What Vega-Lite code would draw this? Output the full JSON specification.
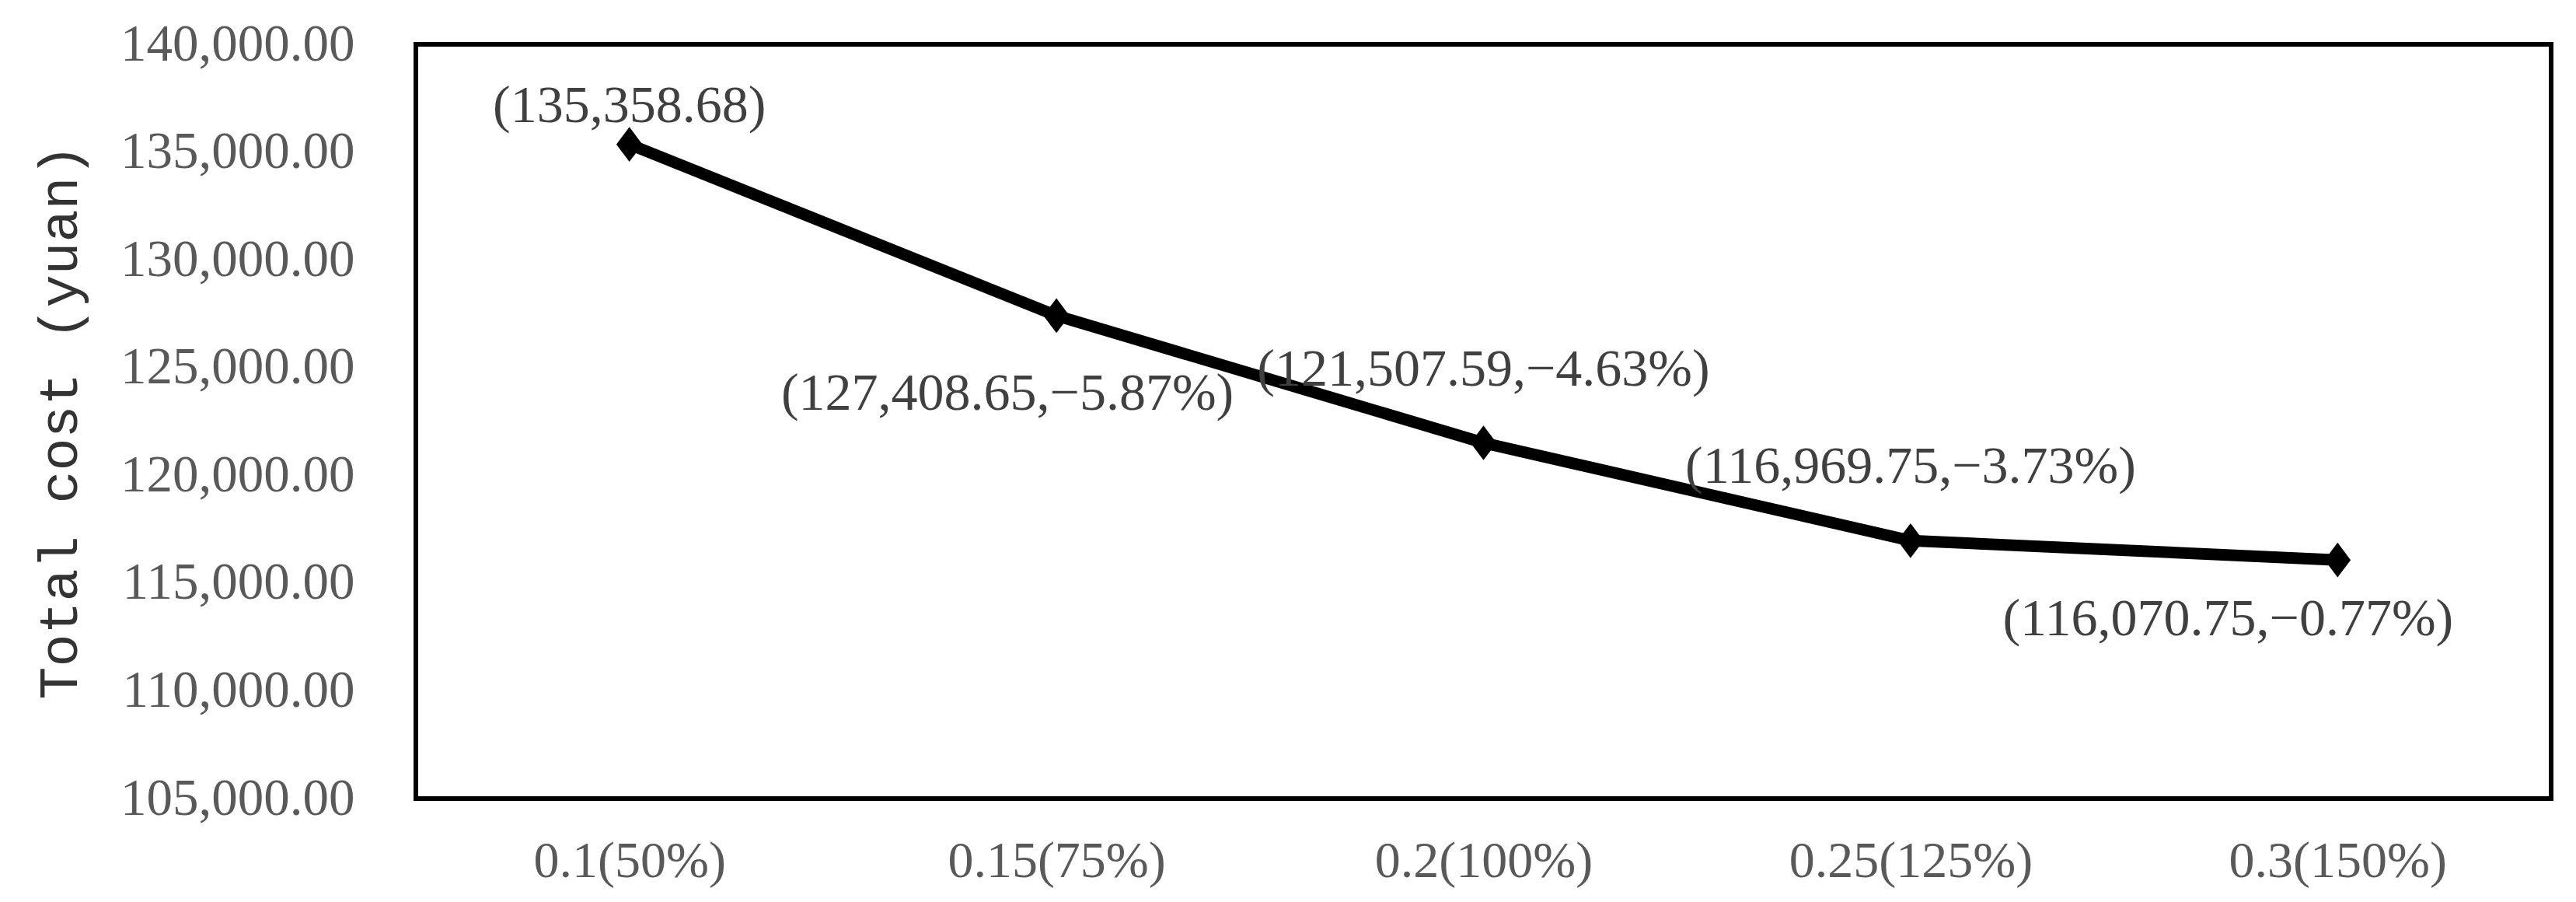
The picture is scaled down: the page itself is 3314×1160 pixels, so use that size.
{
  "$schema": "https://vega.github.io/schema/vega-lite/v6.json",
  "width": 2747,
  "height": 970,
  "autosize": {"type": "none"},
  "padding": {"left": 535, "top": 57, "right": 32, "bottom": 133},
  "background": "white",
  "config": {
    "view": {"stroke": "black", "strokeWidth": 6},
    "axis": {"grid": false, "domain": false, "ticks": false, "labelLimit": 0}
  },
  "data": {
    "values": [
      {"ratio": "0.1(50%)", "cost": 135358.68, "label": "(135,358.68)"},
      {"ratio": "0.15(75%)", "cost": 127408.65, "label": "(127,408.65,−5.87%)"},
      {"ratio": "0.2(100%)", "cost": 121507.59, "label": "(121,507.59,−4.63%)"},
      {"ratio": "0.25(125%)", "cost": 116969.75, "label": "(116,969.75,−3.73%)"},
      {"ratio": "0.3(150%)", "cost": 116070.75, "label": "(116,070.75,−0.77%)"}
    ]
  },
  "encoding": {
    "x": {
      "field": "ratio",
      "type": "nominal",
      "sort": null,
      "scale": {"paddingInner": 0, "paddingOuter": 0},
      "axis": {
        "title": null,
        "labelAngle": 0,
        "labelFont": "Liberation Serif",
        "labelFontSize": 66,
        "labelColor": "#595959",
        "labelBaseline": "top",
        "labelPadding": 48,
        "labelLimit": 0
      }
    },
    "y": {
      "field": "cost",
      "type": "quantitative",
      "scale": {"domain": [105000, 140000], "zero": false, "nice": false},
      "axis": {
        "values": [105000, 110000, 115000, 120000, 125000, 130000, 135000, 140000],
        "format": ",.2f",
        "labelFont": "Liberation Serif",
        "labelFontSize": 67,
        "labelColor": "#595959",
        "labelPadding": 79,
        "labelLimit": 0,
        "title": "Total cost (yuan)",
        "titleFont": "Liberation Mono",
        "titleFontSize": 70,
        "titleFontWeight": "normal",
        "titleColor": "#333333",
        "titleAngle": 270,
        "titleAlign": "center",
        "titleBaseline": "alphabetic",
        "titleX": -437,
        "titleY": 485
      }
    }
  },
  "layer": [
    {"mark": {"type": "line", "color": "black", "strokeWidth": 15}},
    {"mark": {"type": "point", "shape": "M-0.75,0L0,-1L0.75,0L0,1Z", "filled": true, "color": "black", "opacity": 1, "size": 2000}},
    {
      "transform": [{"filter": "datum.ratio == '0.1(50%)'"}],
      "mark": {"type": "text", "font": "Liberation Serif", "fontSize": 68, "color": "#404040", "baseline": "middle", "align": "center", "dy": -49},
      "encoding": {"text": {"field": "label"}}
    },
    {
      "transform": [{"filter": "datum.ratio == '0.15(75%)'"}],
      "mark": {"type": "text", "font": "Liberation Serif", "fontSize": 68, "color": "#404040", "baseline": "middle", "align": "center", "dx": -63, "dy": 101},
      "encoding": {"text": {"field": "label"}}
    },
    {
      "transform": [{"filter": "datum.ratio == '0.2(100%)' || datum.ratio == '0.25(125%)'"}],
      "mark": {"type": "text", "font": "Liberation Serif", "fontSize": 68, "color": "#404040", "baseline": "middle", "align": "center", "dy": -94},
      "encoding": {"text": {"field": "label"}}
    },
    {
      "transform": [{"filter": "datum.ratio == '0.3(150%)'"}],
      "mark": {"type": "text", "font": "Liberation Serif", "fontSize": 68, "color": "#404040", "baseline": "middle", "align": "center", "dx": -141, "dy": 77},
      "encoding": {"text": {"field": "label"}}
    }
  ]
}
